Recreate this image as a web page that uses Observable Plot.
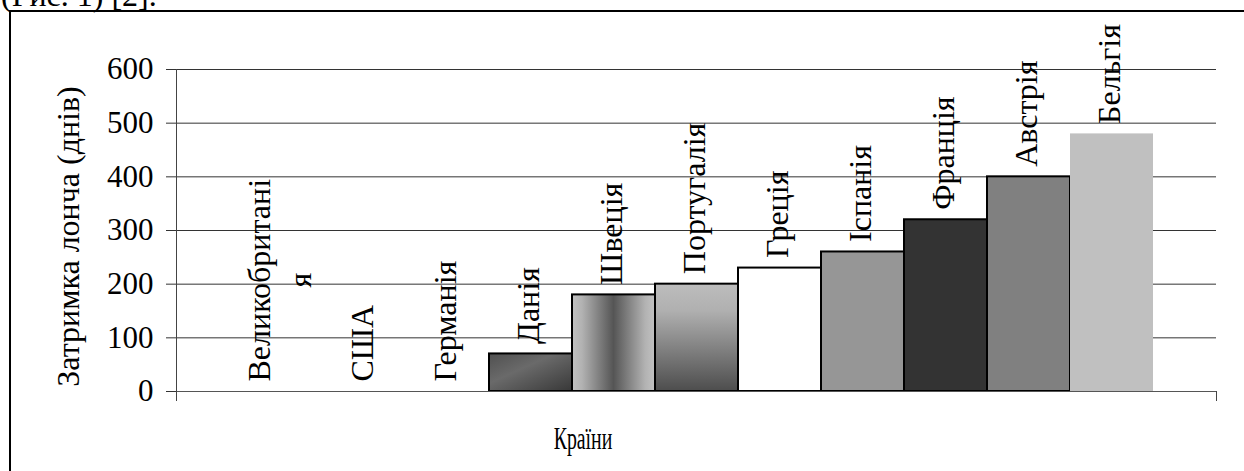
<!DOCTYPE html>
<html><head><meta charset="utf-8">
<script src="https://cdn.jsdelivr.net/npm/d3@7"></script>
<script src="https://cdn.jsdelivr.net/npm/@observablehq/plot@0.6"></script>
<style>
html,body{margin:0;padding:0;width:1244px;height:471px;overflow:hidden;background:#fff;font-family:"Liberation Serif","Times New Roman",serif;color:#000;}
#caption{position:absolute;left:1px;top:-21px;font-size:32px;line-height:32px;white-space:nowrap;}
#frame{position:absolute;left:9px;top:10px;width:1300px;height:520px;border:2px solid #000;box-sizing:border-box;}
#chart{position:absolute;left:0;top:0;}
#xtitle{position:absolute;left:583px;top:422px;font-size:32px;line-height:32px;white-space:nowrap;transform:translateX(-50%) scaleX(0.62);}
</style>
</head><body>
<div id="caption">(Рис. 1) [2].</div>
<div id="frame"></div>
<div id="chart"></div>
<div id="xtitle">Країни</div>
<script>
const countries = ["Великобританія","США","Германія","Данія","Швеція","Португалія","Греція","Іспанія","Франція","Австрія","Бельгія"];
const labels = ["Великобритані\nя","США","Германія","Данія","Швеція","Португалія","Греція","Іспанія","Франція","Австрія","Бельгія"];
const delays = [0,0,0,70,180,200,230,260,320,400,480];
const yTicks = [0,100,200,300,400,500,600];
const yTitle = "Затримка лонча (днів)";
const barFills = ["#c0c0c0","#c0c0c0","#c0c0c0","url(#gDan)","url(#gSwe)","url(#gPor)","#ffffff","#969696","#333333","#808080","#c0c0c0"];
const barStrokes = ["#000","#000","#000","#000","#000","#000","#000","#000","#000","#000","none"];

const data = countries.map((c,i)=>({country:c, delay:delays[i], label:labels[i], fill:barFills[i], stroke:barStrokes[i]}));

const endTicks = (index, scales, values, dims) => {
  const ns = "http://www.w3.org/2000/svg";
  const g = document.createElementNS(ns, "g");
  const y0 = scales.y(0), yTop = scales.y(yTicks[yTicks.length-1]);
  const xl = dims.marginLeft + 0.5, xr = dims.width - dims.marginRight + 0.5;
  const mk = (x1,y1,x2,y2)=>{const l=document.createElementNS(ns,"line");l.setAttribute("x1",x1);l.setAttribute("y1",y1);l.setAttribute("x2",x2);l.setAttribute("y2",y2);l.setAttribute("stroke","#444");g.appendChild(l);};
  mk(xl, yTop, xl, y0 + 10);
  mk(xr, y0, xr, y0 + 10);
  return g;
};

const chart = Plot.plot({
  width:1244, height:471, marginLeft:176, marginRight:28, marginTop:69, marginBottom:80,
  style:{background:"transparent", fontFamily:"'Liberation Serif','Times New Roman',serif", overflow:"visible", color:"#000"},
  x:{domain:countries, paddingInner:0, paddingOuter:0.745, axis:null},
  y:{domain:[0,600], axis:null},
  color:{type:"identity"},
  marks:[
    Plot.ruleY(yTicks.filter(t=>t>0), {stroke:"#333"}),
    Plot.barY(data.filter(d=>d.delay>0), {x:"country", y:"delay", fill:"fill", stroke:"stroke", strokeWidth:2}),
    Plot.ruleY([0], {stroke:"#555"}),
    Plot.axisY({ticks:yTicks, tickSize:10, tickPadding:13, fontSize:31, stroke:"#333", fill:"#000", label:null}),
    endTicks,
    Plot.text(data, {x:"country", y:"delay", text:"label", rotate:-90, textAnchor:"start", dx:-5, dy:-10, fontSize:32, lineHeight:1.28, fill:"#000"}),
    Plot.text([yTitle], {frameAnchor:"left", rotate:-90, textAnchor:"middle", dx:-108, dy:6, fontSize:32, fill:"#000"})
  ]
});

chart.insertAdjacentHTML("afterbegin", `<defs>
<linearGradient id="gDan" x1="0" y1="0" x2="1" y2="1">
  <stop offset="0" stop-color="#505050"/><stop offset="0.4" stop-color="#6a6a6a"/><stop offset="1" stop-color="#383838"/>
</linearGradient>
<linearGradient id="gSwe" x1="0" y1="0" x2="1" y2="0">
  <stop offset="0" stop-color="#c2c2c2"/><stop offset="0.12" stop-color="#b2b2b2"/><stop offset="0.5" stop-color="#555555"/><stop offset="0.88" stop-color="#b2b2b2"/><stop offset="1" stop-color="#c2c2c2"/>
</linearGradient>
<linearGradient id="gPor" x1="0" y1="0" x2="0" y2="1">
  <stop offset="0" stop-color="#bdbdbd"/><stop offset="0.25" stop-color="#b0b0b0"/><stop offset="1" stop-color="#4d4d4d"/>
</linearGradient>
</defs>`);

document.getElementById("chart").append(chart);

chart.querySelectorAll("text").forEach(t => {
  const sp = t.querySelectorAll("tspan");
  if (sp.length > 1) {
    const l0 = sp[0].getComputedTextLength();
    for (let i = 1; i < sp.length; i++) {
      const li = sp[i].getComputedTextLength();
      sp[i].setAttribute("x", (l0 - li) / 2);
    }
  }
});
</script>
</body></html>
